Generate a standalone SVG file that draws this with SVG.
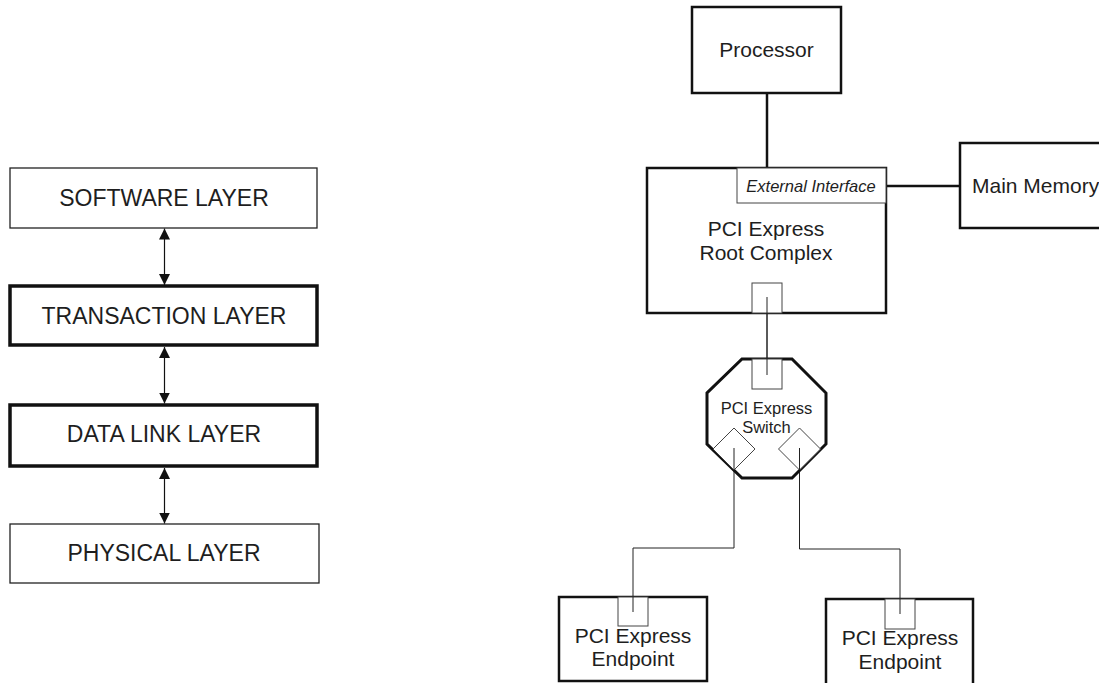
<svg xmlns="http://www.w3.org/2000/svg" width="1099" height="683" viewBox="0 0 1099 683">
  <style>
    text { font-family: "Liberation Sans", Arial, sans-serif; fill: #1e1e1e; text-anchor: middle; }
    .layer { font-size: 23px; }
    .big { font-size: 21px; }
    .small { font-size: 16.5px; }
    .ital { font-style: italic; }
    .thin { fill: #fff; stroke: #222; stroke-width: 1.3; }
    .bold { fill: #fff; stroke: #111; stroke-width: 3.5; }
    .box { fill: #fff; stroke: #111; stroke-width: 2.5; }
    .port { fill: #fff; stroke: #444; stroke-width: 1; }
    .link { fill: none; stroke: #222; stroke-width: 1; }
    .bus { fill: none; stroke: #111; stroke-width: 2.5; }
    .arrow { fill: none; stroke: #111; stroke-width: 1.2; marker-start: url(#head); marker-end: url(#head); }
  </style>
  <defs>
    <marker id="head" viewBox="0 0 10 10" refX="10" refY="5" markerUnits="userSpaceOnUse" markerWidth="11" markerHeight="11" orient="auto-start-reverse">
      <path d="M0,0 L10,5 L0,10 Z" fill="#111"/>
    </marker>
  </defs>
  <rect width="1099" height="683" fill="#fff"/>

  <!-- protocol layer stack -->
  <g id="software-layer">
    <rect class="thin" x="10" y="168" width="307" height="60"/>
    <text class="layer" x="164" y="206">SOFTWARE LAYER</text>
  </g>
  <g id="transaction-layer">
    <rect class="bold" x="10" y="286" width="307" height="59"/>
    <text class="layer" x="164" y="324">TRANSACTION LAYER</text>
  </g>
  <g id="data-link-layer">
    <rect class="bold" x="10" y="405" width="307" height="61"/>
    <text class="layer" x="164" y="442">DATA LINK LAYER</text>
  </g>
  <g id="physical-layer">
    <rect class="thin" x="10" y="524" width="309" height="59"/>
    <text class="layer" x="164" y="561">PHYSICAL LAYER</text>
  </g>

  <!-- connectors -->
  <g id="connectors">
    <line class="arrow" x1="164.5" y1="228.5" x2="164.5" y2="285"/>
    <line class="arrow" x1="164.5" y1="347" x2="164.5" y2="403.5"/>
    <line class="arrow" x1="164.5" y1="468" x2="164.5" y2="523.5"/>

    <line class="bus" x1="767" y1="93" x2="767" y2="168"/>
    <line class="bus" x1="886" y1="186" x2="960" y2="186"/>

    <line class="link" x1="767" y1="297" x2="767" y2="375"/>
    <polyline class="link" points="734,448 734,548 633,548 633,612"/>
    <polyline class="link" points="799.5,448 799.5,549 900,549 900,614"/>
  </g>

  <!-- system topology -->
  <g id="processor">
    <rect class="box" x="692" y="7" width="149" height="86"/>
    <text class="big" x="766.5" y="57">Processor</text>
  </g>
  <g id="main-memory">
    <rect class="box" x="960" y="143" width="150" height="85"/>
    <text class="big" x="972" y="193" style="text-anchor:start">Main Memory</text>
  </g>
  <g id="root-complex">
    <rect class="box" x="647" y="168" width="239" height="145"/>
    <rect class="port" x="737" y="168" width="149" height="35"/>
    <text class="small ital" x="811" y="192">External Interface</text>
    <text class="big" x="766" y="236">PCI Express</text>
    <text class="big" x="766" y="260">Root Complex</text>
    <rect class="port" x="752" y="283" width="30" height="30"/>
  </g>
  <g id="switch">
    <polygon points="742,359 792,359 826,393 826,444 792,478 742,478 707,444 707,393" fill="#fff" stroke="#111" stroke-width="3"/>
    <rect class="port" x="752" y="359" width="30" height="30"/>
    <polygon class="port" points="734,428 755,449 734,470 713,449"/>
    <polygon class="port" points="799.5,428 820.5,449 799.5,470 778.5,449"/>
    <text class="small" x="766.5" y="414">PCI Express</text>
    <text class="small" x="766.5" y="433">Switch</text>
  </g>
  <g id="endpoint-left">
    <rect class="box" x="559" y="597" width="148" height="84"/>
    <rect class="port" x="618" y="597" width="30" height="29"/>
    <text class="big" x="633" y="643">PCI Express</text>
    <text class="big" x="633" y="666">Endpoint</text>
  </g>
  <g id="endpoint-right">
    <rect class="box" x="826" y="599" width="147" height="92"/>
    <rect class="port" x="885" y="599" width="30" height="30"/>
    <text class="big" x="900" y="645">PCI Express</text>
    <text class="big" x="900" y="669">Endpoint</text>
  </g>

  <!-- link lines drawn over the port squares -->
  <g id="port-taps">
    <line class="link" x1="767" y1="297" x2="767" y2="375"/>
    <line class="link" x1="734" y1="448" x2="734" y2="470"/>
    <line class="link" x1="799.5" y1="448" x2="799.5" y2="470"/>
    <line class="link" x1="633" y1="597" x2="633" y2="612"/>
    <line class="link" x1="900" y1="599" x2="900" y2="614"/>
  </g>
</svg>
